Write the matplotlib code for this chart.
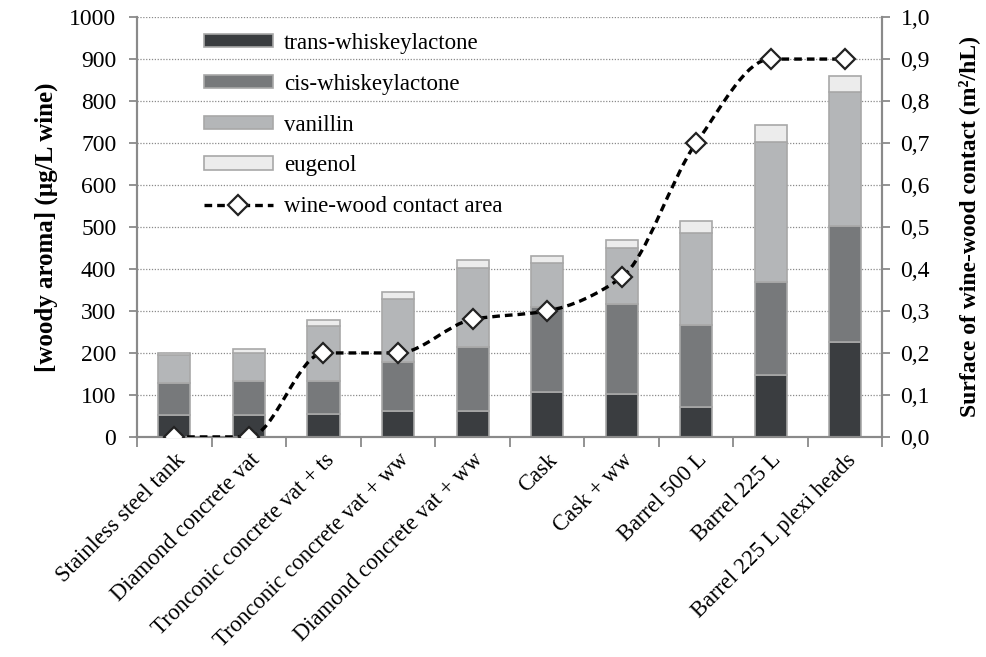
import numpy as np
import matplotlib
matplotlib.use('Agg')
import matplotlib.pyplot as plt
from matplotlib.path import Path
from matplotlib.patches import PathPatch
from matplotlib.ticker import FuncFormatter, MultipleLocator

plt.rcParams['font.family'] = ['Liberation Serif', 'DejaVu Serif']

categories = ['Stainless steel tank', 'Diamond concrete vat', 'Tronconic concrete vat + ts',
              'Tronconic concrete vat + ww', 'Diamond concrete vat + ww', 'Cask', 'Cask + ww',
              'Barrel 500 L', 'Barrel 225 L', 'Barrel 225 L plexi heads']
trans_wl = [51, 51, 54, 62, 62, 106, 102, 72, 147, 227]
cis_wl = [78, 81, 79, 116, 151, 204, 214, 195, 223, 276]
vanillin = [65, 67, 132, 151, 189, 104, 134, 218, 333, 319]
eugenol = [7, 10, 13, 16, 19, 16, 19, 29, 41, 38]
contact = [0.0, 0.0, 0.2, 0.2, 0.28, 0.3, 0.38, 0.7, 0.9, 0.9]

series = [('trans-whiskeylactone', trans_wl, '#3a3d40'),
          ('cis-whiskeylactone', cis_wl, '#77797b'),
          ('vanillin', vanillin, '#b4b6b8'),
          ('eugenol', eugenol, '#ececec')]


def smooth_path(x, y):
    # monotone cubic bezier, like the smoothed line in the original
    x = np.asarray(x, float)
    y = np.asarray(y, float)
    h = np.diff(x)
    d = np.diff(y) / h
    m = np.zeros_like(y)
    m[0] = d[0]
    m[-1] = d[-1]
    for i in range(1, len(y) - 1):
        if d[i - 1] * d[i] > 0:
            m[i] = 2.0 / (1.0 / d[i - 1] + 1.0 / d[i])
    verts = [(x[0], y[0])]
    codes = [Path.MOVETO]
    for i in range(len(x) - 1):
        verts += [(x[i] + h[i] / 3, y[i] + m[i] * h[i] / 3),
                  (x[i + 1] - h[i] / 3, y[i + 1] - m[i + 1] * h[i] / 3),
                  (x[i + 1], y[i + 1])]
        codes += [Path.CURVE4] * 3
    return Path(verts, codes)


fig = plt.figure(figsize=(9.87, 6.57), dpi=100)
ax = fig.add_axes([0.139, 0.335, 0.755, 0.639])
ax2 = ax.twinx()

x = np.arange(len(categories))
bottom = np.zeros(len(categories))
handles = []
for name, vals, col in series:
    b = ax.bar(x, vals, 0.43, bottom=bottom, color=col, edgecolor='#a8a8a8',
               linewidth=1.2, label=name, zorder=2)
    handles.append(b)
    bottom += np.array(vals)

ax.set_xlim(-0.5, len(categories) - 0.5)
ax.set_ylim(0, 1000)
ax.yaxis.set_major_locator(MultipleLocator(100))
ax.grid(axis='y', linestyle=(0, (1, 1.3)), color='#8a8a8a', linewidth=0.9)
ax.set_axisbelow(True)

ax2.set_ylim(0, 1)
ax2.yaxis.set_major_locator(MultipleLocator(0.1))
ax2.yaxis.set_major_formatter(FuncFormatter(lambda v, p: ('%.1f' % v).replace('.', ',')))

lw = 2.4
patch = PathPatch(smooth_path(x, contact), fill=False, edgecolor='black',
                  linewidth=lw, linestyle=(0, (2.3, 1.5)), zorder=3)
ax2.add_patch(patch)
ax2.plot(x, contact, linestyle='none', marker='D', markersize=10,
         markerfacecolor='white', markeredgecolor='#222222', markeredgewidth=1.6, zorder=4)
line_h, = ax2.plot([], [], linestyle=(0, (2.3, 1.5)), color='black', linewidth=lw,
                   marker='D', markersize=10, markerfacecolor='white',
                   markeredgecolor='#222222', markeredgewidth=1.6,
                   label='wine-wood contact area')
handles.append(line_h)

for a in (ax, ax2):
    a.spines['top'].set_visible(False)
    for s in ('left', 'right', 'bottom'):
        a.spines[s].set_color('#8a8a8a')
        a.spines[s].set_linewidth(1.5)

ax.tick_params(axis='y', direction='out', length=6, width=1.3, color='#8a8a8a',
               labelsize=17, pad=9)
ax2.tick_params(axis='y', direction='out', length=6, width=1.3, color='#8a8a8a',
                labelsize=17, pad=7)

ax.set_xticks(x)
ax.set_xticklabels(categories, rotation=45, ha='right', rotation_mode='anchor', fontsize=16.3)
ax.tick_params(axis='x', which='major', length=0, pad=9)
ax.set_xticks(np.arange(-0.5, len(categories)), minor=True)
ax.tick_params(axis='x', which='minor', direction='out', length=7, width=1.3, color='#8a8a8a')

ax.set_ylabel('[woody aroma] (µg/L wine)', fontsize=18, fontweight='bold', labelpad=8)
ax2.set_ylabel('Surface of wine-wood contact (m²/hL)', fontsize=17, fontweight='bold',
               labelpad=20)

leg = ax2.legend(handles, [h.get_label() for h in handles], loc='upper left',
                 bbox_to_anchor=(0.062, 1.012), frameon=False, fontsize=16.5,
                 handlelength=3.0, handleheight=0.55, labelspacing=0.87,
                 numpoints=1, handletextpad=0.5)

fig.savefig('out.png', dpi=100)
